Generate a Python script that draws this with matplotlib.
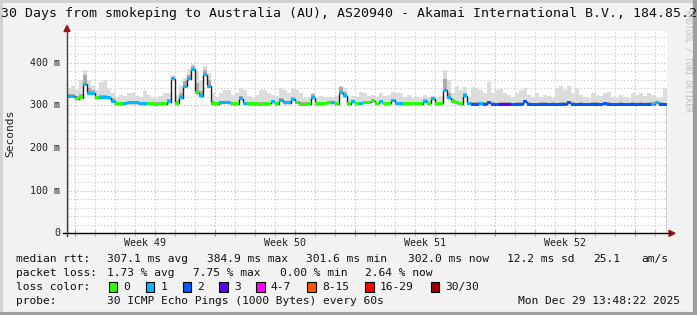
import numpy as np
import matplotlib
matplotlib.use("Agg")
import matplotlib.pyplot as plt
from matplotlib.patches import Rectangle, Polygon
from matplotlib.lines import Line2D
from matplotlib.transforms import blended_transform_factory

# ---------------- data ----------------
step_days = 0.2  # each sample covers 4.8 hours
median_ms = [
    321, 321, 316, 318, 350, 328, 328, 318, 319, 319,
    318, 310, 304, 304, 305, 306, 306, 306, 304, 304,
    305, 304, 303, 304, 304, 309, 362, 305, 318, 345,
    362, 385, 330, 322, 372, 345, 305, 304, 306, 307,
    306, 304, 304, 316, 305, 304, 304, 304, 303, 304,
    305, 308, 304, 312, 306, 306, 314, 307, 303, 303,
    304, 318, 304, 304, 305, 306, 306, 304, 330, 322,
    304, 309, 305, 305, 307, 307, 311, 305, 309, 304,
    305, 312, 305, 304, 304, 304, 305, 305, 304, 310,
    305, 315, 304, 305, 335, 318, 310, 306, 304, 322,
    305, 303, 303, 304, 303, 306, 303, 302, 303, 303,
    303, 302, 303, 303, 308, 303, 302, 302, 303, 303,
    302, 303, 302, 303, 303, 306, 303, 302, 303, 302,
    302, 303, 303, 302, 304, 303, 302, 302, 303, 302,
    302, 303, 302, 303, 302, 303, 303, 306, 303, 302,
]
loss_class = [
    1, 1, 0, 0, 1, 1, 1, 0, 1, 1,
    1, 1, 0, 0, 1, 1, 1, 1, 1, 1,
    0, 0, 0, 0, 0, 1, 1, 0, 1, 1,
    1, 1, 0, 1, 1, 1, 0, 0, 1, 1,
    1, 0, 0, 1, 1, 0, 0, 0, 0, 0,
    0, 1, 0, 1, 1, 1, 1, 0, 0, 0,
    0, 1, 0, 0, 0, 0, 1, 0, 1, 1,
    0, 1, 0, 1, 0, 0, 0, 0, 1, 0,
    0, 1, 1, 1, 0, 0, 0, 0, 0, 1,
    0, 1, 0, 0, 1, 1, 0, 0, 0, 1,
    1, 2, 2, 1, 2, 2, 2, 2, 3, 3,
    3, 2, 2, 2, 2, 2, 2, 2, 2, 2,
    2, 2, 2, 2, 2, 2, 2, 2, 2, 2,
    2, 2, 2, 2, 2, 2, 2, 2, 2, 2,
    2, 2, 2, 2, 2, 2, 1, 1, 2, 2,
]
smoke_max = [
    340, 345, 335, 360, 383, 360, 345, 335, 355, 360,
    338, 330, 318, 325, 322, 330, 328, 322, 320, 335,
    325, 320, 318, 322, 330, 328, 370, 325, 345, 365,
    385, 398, 380, 360, 392, 375, 330, 320, 330, 336,
    335, 325, 330, 340, 335, 322, 318, 325, 336, 335,
    330, 325, 322, 340, 335, 330, 340, 336, 330, 318,
    320, 330, 318, 322, 320, 320, 318, 322, 345, 340,
    318, 322, 320, 332, 330, 322, 325, 320, 330, 322,
    325, 332, 328, 330, 320, 325, 318, 320, 318, 325,
    320, 322, 318, 322, 383, 360, 330, 345, 335, 344,
    320, 344, 340, 335, 330, 355, 328, 335, 338, 330,
    325, 320, 330, 335, 340, 325, 320, 330, 320, 325,
    322, 318, 340, 345, 335, 345, 330, 340, 325, 320,
    318, 330, 325, 322, 330, 332, 320, 318, 325, 320,
    318, 330, 325, 330, 322, 330, 325, 320, 318, 340,
]
smoke_mid = [
    327, 327, 321, 326, 372, 340, 337, 323, 324, 324,
    322, 318, 308, 308, 309, 310, 310, 310, 308, 308,
    309, 308, 307, 308, 308, 314, 367, 310, 328, 356,
    372, 393, 352, 334, 383, 360, 310, 308, 310, 311,
    310, 308, 308, 322, 309, 308, 308, 308, 307, 308,
    309, 312, 308, 317, 310, 310, 319, 311, 307, 307,
    308, 326, 308, 308, 309, 310, 310, 308, 342, 332,
    308, 313, 309, 309, 311, 311, 316, 309, 313, 308,
    309, 316, 309, 308, 308, 308, 309, 309, 308, 314,
    309, 320, 308, 309, 362, 330, 314, 310, 308, 330,
    309, 307, 307, 308, 307, 311, 307, 306, 307, 307,
    307, 306, 307, 307, 313, 307, 306, 306, 307, 307,
    306, 307, 306, 307, 307, 311, 307, 306, 307, 306,
    306, 307, 307, 306, 308, 307, 306, 306, 307, 306,
    306, 307, 306, 307, 306, 307, 307, 311, 307, 306,
]
loss_colors = ["#26ff00", "#00b8ff", "#0059ff", "#5e00ff",
               "#ff00ff", "#ff5500", "#ff0000", "#a00000"]
loss_labels = ["0", "1", "2", "3", "4-7", "8-15", "16-29", "30/30"]
week_labels = ["Week 49", "Week 50", "Week 51", "Week 52"]
first_monday = 0.385           # days from left edge to first week boundary
ytick_vals = [0, 100, 200, 300, 400]
ytick_labels = ["0", "100 m", "200 m", "300 m", "400 m"]
title = "30 Days from smokeping to Australia (AU), AS20940 - Akamai International B.V., 184.85.2"
stats_rtt = [("median rtt:", 16), ("307.1 ms avg", 107.3), ("384.9 ms max", 207.3),
             ("301.6 ms min", 306), ("302.0 ms now", 408.3), ("12.2 ms sd", 506.7),
             ("25.1", 593.3), ("am/s", 641.7)]
stats_loss = [("packet loss:", 16), ("1.73 % avg", 107.3), ("7.75 % max", 193),
              ("0.00 % min", 280), ("2.64 % now", 365)]
box_x = [108.7, 145.7, 182.7, 219.3, 256, 307.3, 365, 430.7]

# ---------------- figure ----------------
W, H, DPI = 697, 315, 100
BG = "#f2f2f2"
MONO = "DejaVu Sans Mono"
fig = plt.figure(figsize=(W / DPI, H / DPI), dpi=DPI, facecolor=BG)

ymax = 475
px_per_ms = 0.4265
x0, x1 = 67, 667
y_zero = 233.3
ax_h = ymax * px_per_ms
ax = fig.add_axes([x0 / W, (H - y_zero) / H, (x1 - x0) / W, ax_h / H])
ax.set_facecolor("white")
n = len(median_ms)
edges = np.arange(n + 1) * step_days
med = np.array(median_ms, dtype=float)
ax.set_xlim(0, 30)
ax.set_ylim(0, ymax)

# grid
ax.set_axisbelow(True)
majors = [first_monday + 7 * k for k in range(5)]
minors = [first_monday + k for k in range(30) if k % 7 != 0]
ax.set_xticks(majors)
ax.set_xticks(minors, minor=True)
ax.set_yticks(ytick_vals)
ax.set_yticks([v for v in range(20, ymax, 20) if v % 100 != 0], minor=True)
ax.grid(which="minor", color="#c4c4c4", linestyle=(0, (1, 2)), linewidth=0.8)
ax.grid(which="major", color="#eba0a0", linestyle=(0, (1, 2)), linewidth=0.8)
ax.tick_params(axis="x", which="major", direction="inout", length=4, width=0.8,
               color="#e07070", labelbottom=False)
ax.tick_params(axis="x", which="minor", direction="inout", length=4, width=0.8,
               color="#b0b0b0")
ax.tick_params(axis="y", which="both", length=0, labelleft=False)
for s in ax.spines.values():
    s.set_visible(False)

# smoke
base = med - 3
ax.stairs(smoke_max, edges, baseline=base, fill=True, color="#dcdcdc", lw=0, zorder=2)
ax.stairs(smoke_mid, edges, baseline=base, fill=True, color="#aaaaaa", lw=0, zorder=3)
# median line + loss-coloured band
ax.stairs(med, edges, color="#202020", lw=1.0, zorder=4)
ax.bar(edges[:-1], 7, bottom=med - 3.5, width=step_days, align="edge",
       color=[loss_colors[c] for c in loss_class], lw=0, zorder=5)

# week labels
tr = blended_transform_factory(ax.transData, ax.transAxes)
for k, lab in enumerate(week_labels):
    ax.text(majors[k] + 3.5, -9.4 / ax_h, lab, transform=tr, ha="center", va="center",
            fontsize=7.2, family=MONO, color="#202020")

# ---------------- overlay in pixel coordinates ----------------
ov = fig.add_axes([0, 0, 1, 1])
ov.set_xlim(0, W)
ov.set_ylim(H, 0)
ov.axis("off")
ov.patch.set_alpha(0)

# frame
ov.add_line(Line2D([1, 1], [0, H], color="#d0d0d0", lw=2))
ov.add_line(Line2D([0, W], [1, 1], color="#d0d0d0", lw=2))
ov.add_line(Line2D([W - 2, W - 2], [0, H], color="#9e9e9e", lw=3))
ov.add_line(Line2D([0, W], [H - 1.5, H - 1.5], color="#9e9e9e", lw=3))

# axes lines + arrows
ov.add_line(Line2D([x0, x0], [y_zero + 3, 30], color="#404040", lw=1))
ov.add_line(Line2D([x0 - 4, 670], [y_zero, y_zero], color="black", lw=1))
ov.add_patch(Polygon([[64, 31.5], [70, 31.5], [67, 25.5]], closed=True, color="#a01010"))
ov.add_patch(Polygon([[669, 230.3], [669, 236.3], [675, 233.3]], closed=True, color="#a01010"))

# y tick labels
for v, lab in zip(ytick_vals, ytick_labels):
    ov.text(60, y_zero - v * px_per_ms, lab, ha="right", va="center",
            fontsize=7.2, family=MONO, color="#202020")
ov.text(10, 133, "Seconds", rotation=90, ha="center", va="center",
        fontsize=8.1, family=MONO, color="#202020")

# title
ov.text(1, 13, title, ha="left", va="center", fontsize=9.5, family=MONO, color="#101010")
# watermark
ov.text(688, 10, "RRDTOOL / TOBI OETIKER", rotation=270, ha="center", va="top",
        fontsize=5.6, family=MONO, color="#bcbcbc")

# legend lines
LF = 8.1
for txt, x in stats_rtt:
    ov.text(x, 259, txt, ha="left", va="center", fontsize=LF, family=MONO, color="#101010")
for txt, x in stats_loss:
    ov.text(x, 273, txt, ha="left", va="center", fontsize=LF, family=MONO, color="#101010")
ov.text(16, 287, "loss color:", ha="left", va="center", fontsize=LF, family=MONO, color="#101010")
for bx, col, lab in zip(box_x, loss_colors, loss_labels):
    ov.add_patch(Rectangle((bx, 281.5), 8.5, 10.5, facecolor=col, edgecolor="black", lw=0.8))
    ov.text(bx + 14.5, 287, lab, ha="left", va="center", fontsize=LF, family=MONO, color="#101010")
ov.text(16, 301, "probe:", ha="left", va="center", fontsize=LF, family=MONO, color="#101010")
ov.text(107.3, 301, "30 ICMP Echo Pings (1000 Bytes) every 60s", ha="left", va="center",
        fontsize=LF, family=MONO, color="#101010")
ov.text(680, 301, "Mon Dec 29 13:48:22 2025", ha="right", va="center",
        fontsize=LF, family=MONO, color="#101010")

fig.savefig("out.png", dpi=DPI, facecolor=BG)
